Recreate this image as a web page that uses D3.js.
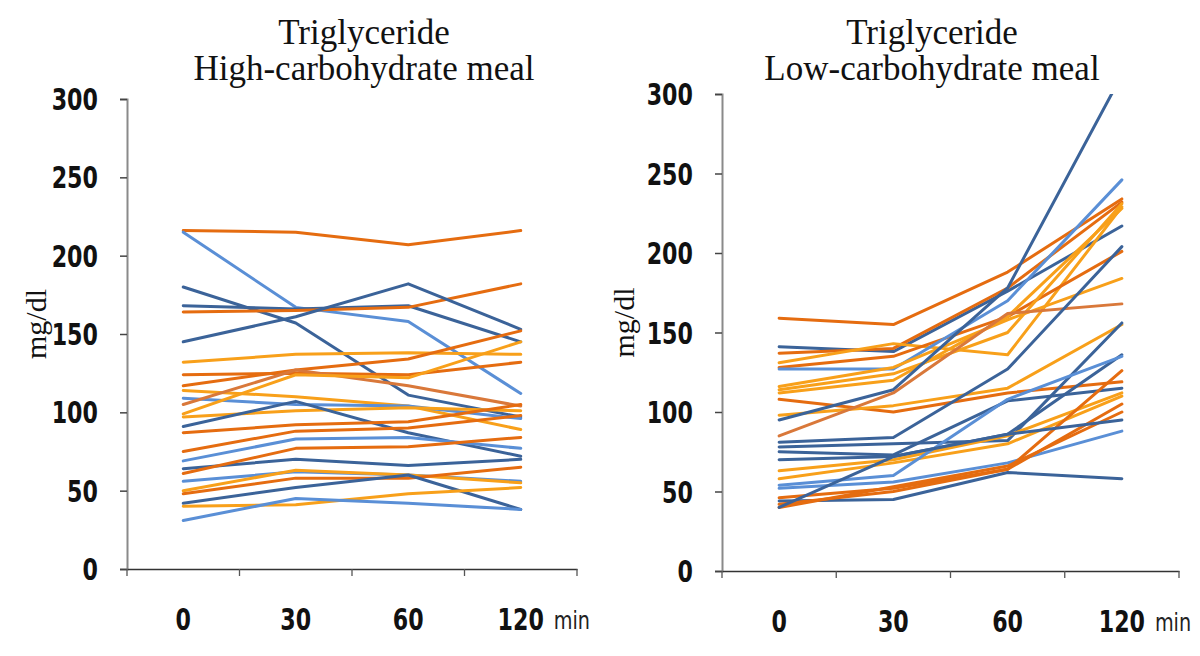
<!DOCTYPE html>
<html>
<head>
<meta charset="utf-8">
<script src="https://cdn.jsdelivr.net/npm/d3@7/dist/d3.min.js"></script>
<style>
  html, body { margin: 0; padding: 0; background: #ffffff; }
  svg { display: block; }
</style>
</head>
<body>
<svg id="chart" width="1200" height="656"></svg>
<script>
// ---------------- data ----------------
const timePoints = ["0", "30", "60", "120"];
const yTicks = [0, 50, 100, 150, 200, 250, 300];
const titleLine1 = "Triglyceride";
const highTitle = "High-carbohydrate meal";
const lowTitle = "Low-carbohydrate meal";
const yAxisLabel = "mg/dl";
const xUnit = "min";

// colour group of each subject line (DB dark blue, LB light blue, O orange, A amber, B brown-orange)
const highGroups = ["O","LB","DB","DB","O","DB","A","O","O","A","LB","B","A","A","DB","O","O","LB","DB","O","LB","A","O","DB","A","LB"];
const highValues = [
  [216, 215, 207, 216],
  [215, 167, 158, 112],
  [180, 157, 111, 97],
  [168, 166, 168, 145],
  [164, 165, 167, 182],
  [145, 161, 182, 153],
  [132, 137, 138, 137],
  [124, 125, 124, 132],
  [117, 127, 134, 152],
  [114, 110, 104, 89],
  [109, 105, 104, 96],
  [105, 127, 117, 104],
  [99, 124, 122, 145],
  [97, 101, 103, 101],
  [91, 107, 87, 72],
  [87, 92, 94, 105],
  [75, 88, 90, 98],
  [69, 83, 84, 77],
  [64, 70, 66, 70],
  [61, 77, 78, 84],
  [56, 62, 60, 56],
  [50, 63, 60, 55],
  [48, 58, 58, 65],
  [42, 52, 60, 38],
  [40, 41, 48, 52],
  [31, 45, 42, 38]
];

const lowGroups = ["O","DB","O","A","O","LB","A","A","A","O","A","DB","B","DB","DB","DB","DB","A","A","LB","LB","O","DB","O","O","DB"];
const lowValues = [
  [159, 155, 188, 234],
  [141, 138, 176, 217],
  [137, 140, 178, 232],
  [131, 143, 136, 229],
  [128, 135, 160, 201],
  [127, 127, 170, 246],
  [116, 128, 158, 184],
  [114, 124, 150, 231],
  [112, 120, 160, 228],
  [108, 100, 112, 119],
  [98, 104, 115, 155],
  [95, 114, 178, 312],
  [85, 112, 162, 168],
  [81, 84, 127, 204],
  [78, 80, 82, 156],
  [75, 73, 107, 115],
  [70, 72, 86, 136],
  [63, 70, 85, 112],
  [58, 68, 80, 110],
  [54, 60, 108, 135],
  [52, 56, 68, 88],
  [46, 52, 64, 126],
  [44, 45, 62, 58],
  [42, 50, 64, 105],
  [40, 53, 66, 100],
  [40, 72, 86, 95]
];

// ---------------- styles ----------------
const palette = { DB: "#3b6399", LB: "#5a8fd6", O: "#e56c10", A: "#f8a01a", B: "#d9783a" };
const numFont = "'DejaVu Sans', 'Liberation Sans', sans-serif";
const serifFont = "'Liberation Serif', 'DejaVu Serif', serif";
const squeeze = 0.74;

const svg = d3.select("#chart");

const panels = [
  { id: "high", groups: highGroups, values: highValues, title: highTitle,
    x0: 127, x1: 577, yTop: 99, yBottom: 569, titleX: 364, labelX: 46 },
  { id: "low", groups: lowGroups, values: lowValues, title: lowTitle,
    x0: 722, x1: 1179, yTop: 94, yBottom: 571, titleX: 932, labelX: 634 }
];

panels.forEach(p => {
  const g = svg.append("g").attr("class", "panel-" + p.id);

  const x = d3.scaleBand().domain(timePoints).range([p.x0, p.x1]).padding(0);
  const y = d3.scaleLinear().domain([0, 300]).range([p.yBottom, p.yTop]);
  const cx = t => x(t) + x.bandwidth() / 2;

  // clip path for the plot area
  svg.append("clipPath").attr("id", "clip-" + p.id)
    .append("rect")
    .attr("x", p.x0).attr("y", p.yTop)
    .attr("width", p.x1 - p.x0).attr("height", p.yBottom - p.yTop);

  // lines
  const line = d3.line()
    .x((d, i) => cx(timePoints[i]))
    .y(d => y(d));

  g.append("g").attr("clip-path", "url(#clip-" + p.id + ")")
    .selectAll("path")
    .data(p.values)
    .join("path")
    .attr("d", d => line(d))
    .attr("fill", "none")
    .attr("stroke", (d, i) => palette[p.groups[i]])
    .attr("stroke-width", 3)
    .attr("stroke-linejoin", "round")
    .attr("stroke-linecap", "round");

  // y axis
  const yAxis = g.append("g")
    .attr("transform", `translate(${p.x0},0)`)
    .call(d3.axisLeft(y).tickValues(yTicks).tickSize(7).tickFormat(""));
  yAxis.select(".domain").attr("stroke", "#8a8a8a").attr("stroke-width", 2);
  yAxis.selectAll(".tick line").attr("stroke", "#444").attr("stroke-width", 1.5);

  // y tick labels (condensed bold)
  g.append("g").selectAll("g")
    .data(yTicks)
    .join("g")
    .attr("transform", d => `translate(${p.x0 - 29},${y(d) + 11}) scale(${squeeze},1)`)
    .append("text")
    .attr("text-anchor", "end")
    .attr("font-family", numFont).attr("font-weight", "bold")
    .attr("font-size", 30).attr("fill", "#111")
    .text(d => d);

  // x axis line
  const xAxis = g.append("g")
    .attr("transform", `translate(0,${p.yBottom})`)
    .call(d3.axisBottom(x).tickSize(0).tickFormat(""));
  xAxis.select(".domain").attr("stroke", "#333").attr("stroke-width", 1.6);

  // x tick labels at category centres
  g.append("g").selectAll("g")
    .data(timePoints)
    .join("g")
    .attr("transform", d => `translate(${cx(d)},${p.yBottom + 61}) scale(${squeeze},1)`)
    .append("text")
    .attr("text-anchor", "middle")
    .attr("font-family", numFont).attr("font-weight", "bold")
    .attr("font-size", 30).attr("fill", "#111")
    .text(d => d);

  // x tick marks at category boundaries
  const bounds = timePoints.map(t => x(t)).concat([x.range()[1]]);
  g.append("g").selectAll("line")
    .data(bounds)
    .join("line")
    .attr("x1", d => d).attr("x2", d => d)
    .attr("y1", p.yBottom).attr("y2", p.yBottom + 7)
    .attr("stroke", "#555").attr("stroke-width", 1.3);

  // "min" unit
  g.append("g")
    .attr("transform", `translate(${cx("120") + 33},${p.yBottom + 60}) scale(0.8,1)`)
    .append("text")
    .attr("font-family", numFont)
    .attr("font-size", 24)
    .attr("fill", "#222")
    .text(xUnit);

  // titles
  g.append("text")
    .attr("x", p.titleX).attr("y", 44)
    .attr("text-anchor", "middle")
    .attr("font-family", serifFont).attr("font-size", 35).attr("fill", "#111")
    .text(titleLine1);
  g.append("text")
    .attr("x", p.titleX).attr("y", 80)
    .attr("text-anchor", "middle")
    .attr("font-family", serifFont).attr("font-size", 35).attr("fill", "#111")
    .text(p.title);

  // y label
  g.append("text")
    .attr("transform", `translate(${p.labelX},${(p.yTop + p.yBottom) / 2 - 10}) rotate(-90)`)
    .attr("text-anchor", "middle")
    .attr("font-family", serifFont).attr("font-size", 30).attr("fill", "#111")
    .text(yAxisLabel);
});
</script>
</body>
</html>
